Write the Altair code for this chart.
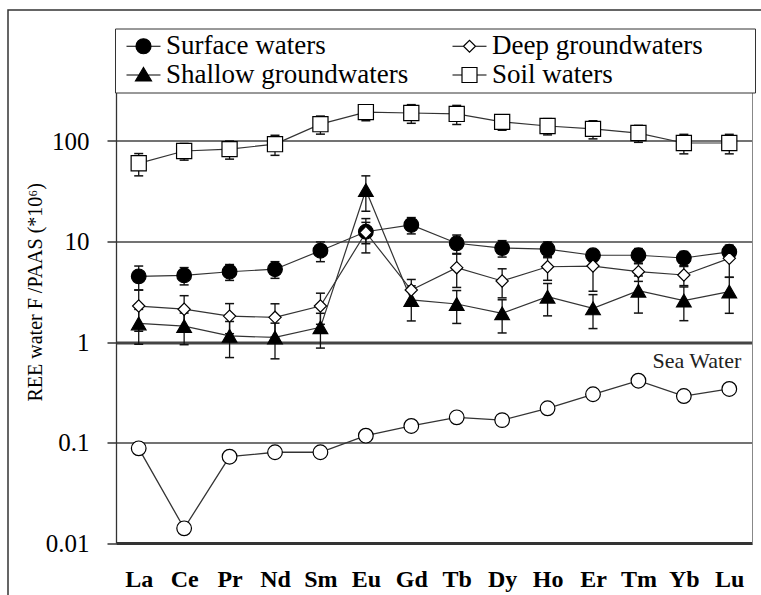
import json
import altair as alt
import pandas as pd

# ---------------- data ----------------
elements = ["La", "Ce", "Pr", "Nd", "Sm", "Eu", "Gd", "Tb", "Dy", "Ho", "Er", "Tm", "Yb", "Lu"]
# legend order (filled column by column: left column first)
series_names = ["Surface waters", "Shallow groundwaters", "Deep groundwaters", "Soil waters"]

surface_values = [4.5, 4.6, 5.0, 5.3, 8.1, 12.5, 14.6, 9.6, 8.6, 8.4, 7.3, 7.3, 6.85, 7.9]
surface_errors = [1.2, 0.9, 0.9, 1.0, 1.8, 3.0, 2.7, 2.0, 1.6, 1.5, 1.0, 1.2, 1.1, 1.0]

shallow_values = [1.53, 1.44, 1.15, 1.11, 1.40, 32.5, 2.62, 2.39, 1.93, 2.82, 2.16, 3.24, 2.58, 3.17]
shallow_errors = [0.58, 0.50, 0.45, 0.43, 0.53, 12.5, 1.0, 0.86, 0.70, 1.0, 0.80, 1.3, 0.95, 1.24]

deep_values = [2.28, 2.12, 1.81, 1.76, 2.28, 12.3, 3.29, 5.49, 4.05, 5.61, 5.70, 5.01, 4.64, 6.8]
deep_errors = [1.0, 0.77, 0.60, 0.64, 0.78, 4.6, 0.9, 2.0, 1.3, 1.5, 2.5, 1.0, 1.0, 2.4]

soil_values = [60, 79.5, 83, 93, 147, 194, 190, 186, 155, 141, 132, 120, 95.5, 95.5]
soil_errors = [15, 15, 17, 21, 30, 35, 40, 40, 27, 26, 27, 23, 21, 21]

sea_values = [0.0875, 0.014, 0.0722, 0.080, 0.080, 0.117, 0.146, 0.178, 0.167,
              0.219, 0.302, 0.412, 0.290, 0.341]

annotation_text = ["Sea Water"]
annotation_element = ["Lu"]
annotation_value = [0.65]

y_tick_values = [0.01, 0.1, 1, 10, 100]

# ---------------- tables ----------------
rows = []
for name, vals, errs in [
    ("Surface waters", surface_values, surface_errors),
    ("Shallow groundwaters", shallow_values, shallow_errors),
    ("Deep groundwaters", deep_values, deep_errors),
    ("Soil waters", soil_values, soil_errors),
]:
    for el, v, e in zip(elements, vals, errs):
        rows.append({"series": name, "element": el, "value": v, "lo": v - e, "hi": v + e})
df = pd.DataFrame(rows)
sea_df = pd.DataFrame({"element": elements, "value": sea_values})
ann_df = pd.DataFrame({"label": annotation_text, "element": annotation_element,
                       "value": annotation_value})

pos_expr = "indexof(" + json.dumps(elements) + ", datum.element) + 0.5"

SERIF = "Liberation Serif"
W, H = 636, 502.5
n = len(elements)

xscale = alt.Scale(domain=[0, n], nice=False, zero=False)
yscale = alt.Scale(type="log", domain=[0.01, 1000], nice=False)

label_axis = alt.Axis(
    values=[i + 0.5 for i in range(n)],
    labelExpr=json.dumps(elements) + "[floor(datum.value)]",
    labelFlush=False, labelOverlap=False, labelBound=False,
    labelFont=SERIF, labelFontSize=24, labelFontWeight="bold", labelColor="black",
    labelPadding=24, labelBaseline="top",
    ticks=False, tickSize=0,
    domainColor="#333", domainWidth=3, grid=False, title=None,
)
tick_axis = alt.Axis(
    values=list(range(n + 1)), labels=False, domain=False, grid=False, title=None,
    tickSize=8, tickWidth=3, tickColor="#333",
)
right_axis = alt.Axis(
    orient="right", labels=False, ticks=False, grid=False, title=None,
    domainColor="#888", domainWidth=1,
)
yaxis = alt.Axis(
    values=y_tick_values, format="~g", labelOverlap=False,
    labelFont=SERIF, labelFontSize=25, labelColor="black", labelPadding=18,
    tickSize=9, tickWidth=1.5, tickColor="#333",
    domainColor="#333", domainWidth=1.3,
    grid=True, gridColor="#444",
    gridWidth={"condition": {"test": "datum.value === 1", "value": 2.8}, "value": 1.3},
    title="REE water F /PAAS (*10⁶)", titleFont=SERIF, titleFontSize=20,
    titleFontWeight="normal", titleColor="black", titleAngle=270,
    titleX=-81, titleY=H / 2, titleAlign="center", titleBaseline="middle",
)

X = alt.X("pos:Q", scale=xscale, axis=label_axis)


def Y(field):
    return alt.Y(field, type="quantitative", scale=yscale, axis=yaxis)


base = alt.Chart(df).transform_calculate(pos=pos_expr)

frame = alt.Chart(alt.Data(values=[{}])).mark_rect(
    filled=False, stroke="#333", strokeWidth=1.5
).encode(x=alt.value(-108), y=alt.value(-30.5), x2=alt.value(720), y2=alt.value(640))

err_rule = base.mark_rule(color="#111", strokeWidth=1.3).encode(x=X, y=Y("lo"), y2="hi:Q")
cap_lo = base.mark_tick(orient="horizontal", size=9, thickness=1.5, color="#111",
                        opacity=1).encode(x=X, y=Y("lo"))
cap_hi = base.mark_tick(orient="horizontal", size=9, thickness=1.5, color="#111",
                        opacity=1).encode(x=X, y=Y("hi"))

lines = base.mark_line(color="#333", strokeWidth=1.2).encode(x=X, y=Y("value"), detail="series:N")

styles = [
    ("Surface waters", "circle", "black", 215),
    ("Shallow groundwaters", "triangle-up", "black", 215),
    ("Deep groundwaters", "diamond", "white", 150),
    ("Soil waters", "square", "white", 230),
]
point_layers = []
for name, shape, fill, size in styles:
    point_layers.append(
        base.transform_filter(alt.datum.series == name)
        .mark_point(shape=shape, filled=True, fill=fill, stroke="black",
                    strokeWidth=1.2, size=size, opacity=1)
        .encode(x=X, y=Y("value"))
    )

sea_base = alt.Chart(sea_df).transform_calculate(pos=pos_expr)
sea_line = sea_base.mark_line(color="#333", strokeWidth=1.3).encode(x=X, y=Y("value"))
sea_pts = sea_base.mark_point(shape="circle", filled=True, fill="white", stroke="black",
                              strokeWidth=1.2, size=215, opacity=1).encode(x=X, y=Y("value"))

ann = alt.Chart(ann_df).transform_calculate(pos=pos_expr).mark_text(
    align="right", baseline="middle", dx=12, font=SERIF, fontSize=22, color="#222"
).encode(x=X, y=Y("value"), text="label:N")

# legend symbols: a short line with the series marker in its middle
# (the right-hand column carries a trailing move so that the legend box
#  stretches across the plot like the original)
legend_paths = [
    "M-0.6,0H0.35M1.85,0H2.8M0.35,0A0.75,0.75,0,1,0,1.85,0A0.75,0.75,0,1,0,0.35,0Z",
    "M-0.6,0H2.8M1.1,-0.75L1.9,0.6L0.3,0.6Z",
    "M-0.6,0H0.5M1.7,0H2.8M0.5,0L1.1,-0.6L1.7,0L1.1,0.6ZM29,0",
    "M-0.6,0H0.35M1.85,0H2.8M0.35,-0.75H1.85V0.75H0.35ZM29,0",
]
legend_fills = ["black", "black", "white", "white"]
leg = alt.Legend(
    orient="none", legendX=-1, legendY=-12, columns=2, columnPadding=36, rowPadding=1,
    padding=4, gridAlign="each", strokeColor="#333", fillColor="white",
    labelFont=SERIF, labelFontSize=27, labelColor="black", labelOffset=20, labelLimit=500,
    symbolSize=400, symbolStrokeWidth=1.2, symbolStrokeColor="black", symbolOpacity=1,
    title=None,
)
legend_layer = base.transform_filter("false").mark_point(
    filled=True, stroke="black", strokeWidth=1.2, size=400, opacity=1
).encode(
    x=alt.X("pos:Q", scale=xscale, axis=tick_axis),
    y=alt.Y("value:Q", scale=yscale, axis=right_axis),
    shape=alt.Shape("series:N", scale=alt.Scale(domain=series_names, range=legend_paths), legend=leg),
    fill=alt.Fill("series:N", scale=alt.Scale(domain=series_names, range=legend_fills), legend=leg),
    stroke=alt.Stroke("series:N", scale=alt.Scale(domain=series_names, range=["black"] * 4), legend=leg),
)

data_layers = alt.layer(
    frame, err_rule, cap_lo, cap_hi, lines, *point_layers, sea_line, sea_pts, ann
)

chart = alt.layer(data_layers, legend_layer).resolve_axis(
    x="independent", y="independent"
).properties(
    width=W, height=H,
    autosize=alt.AutoSizeParams(type="none"),
    padding={"left": 116, "top": 40.5, "right": 9, "bottom": 52},
    background="white",
).configure_view(strokeWidth=0)

chart.save("out.html", embed_options={"renderer": "svg", "actions": False})
